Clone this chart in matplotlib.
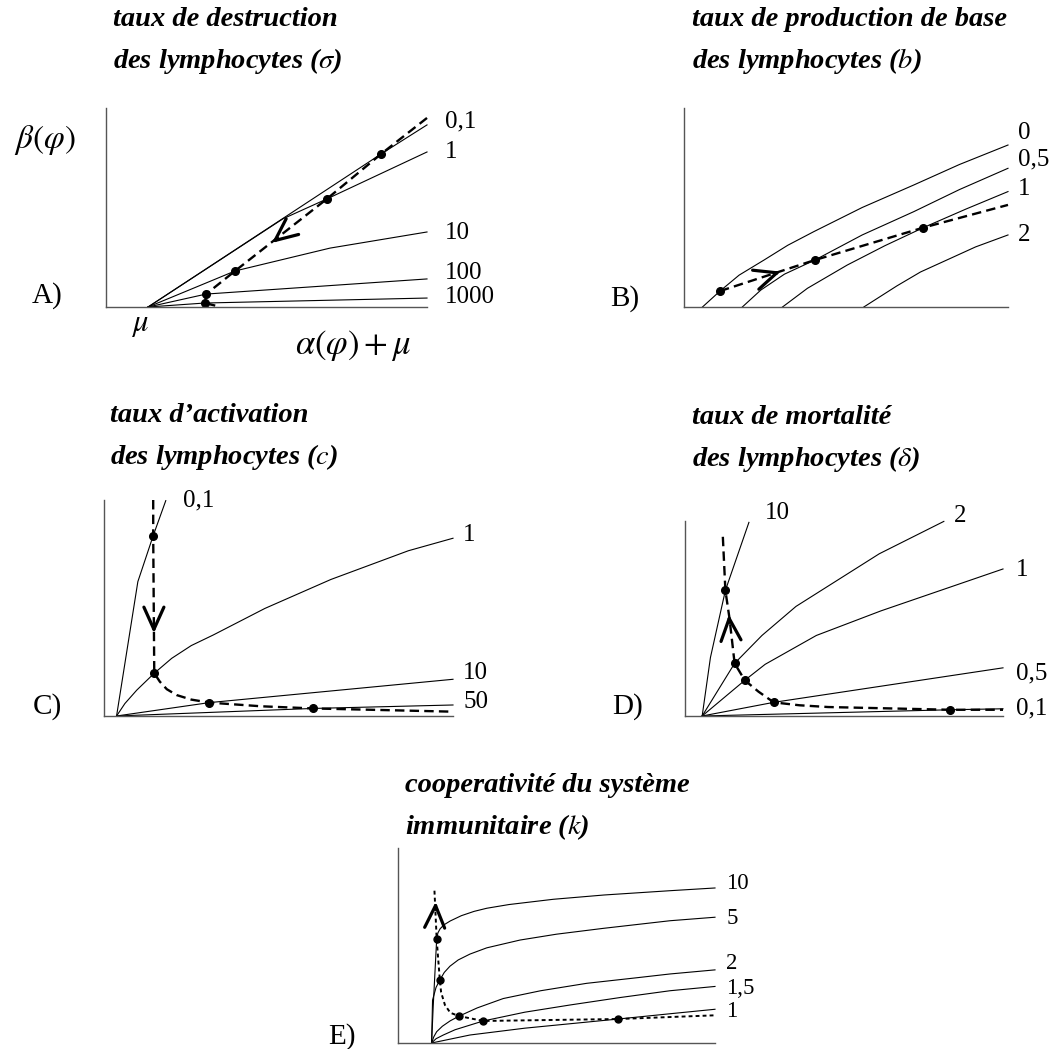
import matplotlib
matplotlib.use("Agg")
import matplotlib.pyplot as plt

plt.rcParams["font.family"] = "Liberation Serif"
plt.rcParams["mathtext.fontset"] = "stix"

W, H = 1054, 1049

# --- data (each panel in % of its own axes) ---
# A) taux de destruction (sigma)
a_names = ["0,1", "1", "10", "100", "1000"]
a_x = [[13.1, 85.7, 100], [13.1, 55.1, 68.8, 100], [13.1, 40.2, 69.8, 100],
       [13.1, 31.2, 100], [13.1, 30.8, 100]]
a_y = [[0, 76.9, 91.5], [0, 44.3, 54.3, 77.9], [0, 18.1, 29.6, 37.7],
       [0, 6.5, 14.1], [0, 2.0, 4.5]]
a_lab_y = [93.0, 77.9, 37.2, 17.1, 5.0]
a_path_x = [100, 85.7, 68.8, 40.2, 31.2, 30.8, 34.5]
a_path_y = [95.0, 76.9, 54.3, 18.1, 6.5, 2.0, 0.5]
a_dot_x = [85.7, 68.8, 40.2, 31.2, 30.8]
a_dot_y = [76.9, 54.3, 18.1, 6.5, 2.0]

# B) taux de production de base (b)
b_names = ["0", "0,5", "1", "2"]
b_x = [[5.7, 11.1, 17.0, 24.7, 32.0, 40.1, 55.0, 70.9, 85.0, 100],
       [18.0, 23.7, 31.0, 40.4, 55.0, 70.9, 85.0, 100],
       [30.4, 38.1, 50.4, 62.0, 73.9, 87.0, 100],
       [55.5, 65.7, 73.0, 81.1, 90.0, 100]]
b_y = [[0, 8.0, 16.0, 23.6, 31.0, 37.9, 50.0, 61.3, 71.6, 81.4],
       [0, 8.5, 16.5, 23.6, 36.2, 47.9, 59.0, 69.7],
       [0, 9.4, 21.1, 30.8, 39.9, 49.2, 58.0],
       [0, 10.6, 17.6, 23.6, 30.2, 36.2]]
b_lab_y = [87.4, 73.9, 59.3, 36.2]
b_path_x = [11.1, 40.4, 73.9, 100]
b_path_y = [8.0, 23.6, 39.9, 51.3]

# C) taux d'activation (c)
c_names = ["0,1", "1", "10", "50"]
c_x = [[3.6, 9.7, 14.1, 17.7],
       [3.6, 6.0, 9.4, 14.4, 19.4, 25.0, 31.3, 46.1, 65.0, 87.2, 100],
       [3.6, 30.2, 100], [3.6, 60.0, 100]]
c_y = [[0, 62.2, 83.5, 99.7],
       [0, 5.8, 12.0, 19.8, 26.7, 32.6, 37.5, 49.8, 63.2, 76.5, 82.3],
       [0, 6.2, 17.0], [0, 3.5, 5.1]]
c_lab_x = [22.7, 102.9, 102.9, 102.9]
c_lab_y = [99.7, 83.8, 19.9, 6.5]
c_path_x = [14.1, 14.1, 14.4, 16.0, 18.0, 20.8, 25.0, 30.2, 45.0, 60.0, 100]
c_path_y = [100, 83.5, 19.8, 15.9, 12.4, 9.7, 7.6, 6.2, 4.5, 3.5, 2.0]
c_dot_x = [14.1, 14.4, 30.2, 60.0]
c_dot_y = [83.5, 19.8, 6.2, 3.5]

# D) taux de mortalite (delta)
d_names = ["10", "2", "1", "0,5", "0,1"]
d_x = [[5.4, 8.0, 12.7, 20.1], [5.4, 15.6, 24.2, 34.9, 61.1, 81.4],
       [5.4, 18.8, 25.2, 41.3, 61.6, 100], [5.4, 27.9, 100], [5.4, 83.4, 100]]
d_y = [[0, 30, 64.4, 99.3], [0, 27.0, 41.3, 56.2, 83.2, 99.8],
       [0, 18.3, 26.5, 41.3, 53.9, 75.4], [0, 7.0, 24.7], [0, 3.2, 3.7]]
d_lab_x = [25.2, 84.7, 104, 104, 104]
d_lab_y = [104.2, 102.8, 74.9, 21.7, 4.0]
d_path_x = [11.9, 12.7, 14.0, 15.6, 18.8, 23.1, 27.9, 36.0, 45.0, 83.4, 100]
d_path_y = [91.9, 64.4, 50.0, 27.0, 18.3, 12.5, 7.0, 5.5, 4.6, 3.2, 3.2]
d_dot_x = [12.7, 15.6, 18.8, 27.9, 83.4]
d_dot_y = [64.4, 27.0, 18.3, 7.0, 3.2]

# E) cooperativite (k)
e_names = ["10", "5", "2", "1,5", "1"]
e_x = [[10.6, 11.1, 12.2, 12.6, 13.3, 14.5, 16.5, 20.0, 24.0, 28.0, 35.0, 49.0, 65.0, 85.8, 100],
       [10.6, 10.9, 12.0, 13.2, 14.6, 16.4, 19.0, 22.7, 28.0, 38.5, 50.0, 64.8, 85.8, 100],
       [10.6, 11.3, 12.2, 14.0, 16.5, 19.3, 25.0, 33.2, 45.0, 59.5, 75.0, 85.8, 100],
       [10.6, 12.0, 14.3, 18.0, 26.9, 40.0, 54.3, 70.0, 85.8, 100],
       [10.6, 22.7, 40.0, 69.5, 85.8, 100]]
e_y = [[0, 18.6, 53.3, 56.5, 58.6, 60.6, 62.6, 65.3, 67.5, 69.1, 71.0, 73.7, 75.9, 78.1, 79.5],
       [0, 22.0, 28.5, 32.3, 36.2, 39.4, 42.6, 45.6, 48.8, 52.8, 55.8, 58.8, 62.7, 64.5],
       [0, 3.2, 5.8, 8.6, 11.4, 13.8, 18.0, 22.8, 26.8, 30.6, 33.4, 35.4, 37.5],
       [0, 2.2, 4.1, 6.8, 11.3, 15.8, 19.5, 23.3, 26.8, 29.0],
       [0, 4.1, 7.6, 12.3, 15.0, 17.3]]
e_lab_y = [82.0, 64.1, 41.0, 28.0, 16.0]
e_path_x = [11.5, 12.2, 12.7, 13.2, 13.6, 14.8, 16.5, 19.3, 26.9, 69.5, 100]
e_path_y = [78.1, 53.3, 42.6, 32.3, 26.0, 19.5, 15.5, 13.8, 11.3, 12.3, 14.2]
e_dot_x = [12.2, 13.2, 19.3, 26.9, 69.5]
e_dot_y = [53.3, 32.3, 13.8, 11.3, 12.3]

fig = plt.figure(figsize=(W / 100, H / 100), dpi=100)


def make_ax(l, t, r, b):
    ax = fig.add_axes([l / W, 1 - b / H, (r - l) / W, (b - t) / H])
    ax.set_xlim(0, 100)
    ax.set_ylim(0, 100)
    for s in ("top", "right"):
        ax.spines[s].set_visible(False)
    for s in ("left", "bottom"):
        ax.spines[s].set_color("#555555")
        ax.spines[s].set_linewidth(1.0)
    ax.set_xticks([])
    ax.set_yticks([])
    ax.patch.set_alpha(0)
    return ax


def draw(ax, xs, ys, names, lab_x, lab_y, px, py, dx, dy, ls=(0, (4, 2.2)), lw=1.7, ms=5.5, fs=18):
    for x, y in zip(xs, ys):
        ax.plot(x, y, color="black", lw=0.8, clip_on=False)
    for n, x, y in zip(names, lab_x, lab_y):
        ax.text(x, y, n, fontsize=fs, ha="left", va="center", clip_on=False)
    ax.plot(px, py, color="black", lw=lw, linestyle=ls, clip_on=False)
    ax.plot(dx, dy, "o", color="black", ms=ms, clip_on=False)


def chevron(ax, tip, tail):
    ax.annotate("", xy=tip, xytext=tail,
                arrowprops=dict(arrowstyle="->,head_length=0.8,head_width=0.36",
                                mutation_scale=20, lw=2.3, color="black",
                                shrinkA=0, shrinkB=0))


def title(x, y, l1, l2):
    fig.text(x / W, 1 - y / H, l1, fontsize=20.5, fontweight="bold", fontstyle="italic",
             ha="left", va="center")
    fig.text(x / W, 1 - (y + 42) / H, l2, fontsize=20.5, fontweight="bold", fontstyle="italic",
             ha="left", va="center")


# A
ax = make_ax(106, 108, 427, 307)
draw(ax, a_x, a_y, a_names, [105.5] * 5, a_lab_y, a_path_x, a_path_y, a_dot_x, a_dot_y)
chevron(ax, (51.7, 32.2), (53.1, 34.0))
ax.text(-19.0, 83.9, r"$\beta(\varphi)$", fontsize=24, ha="center", va="center")
ax.text(10.6, -9.0, r"$\mu$", fontsize=22, ha="center", va="center")
ax.text(76.9, -19.1, r"$\alpha(\varphi)+\mu$", fontsize=25, ha="center", va="center")
ax.text(-18.4, 6.0, "A)", fontsize=21, ha="center", va="center")
title(113, 19, "taux de destruction", r"des lymphocytes ($\sigma$)")

# B
ax = make_ax(684, 108, 1008, 307)
draw(ax, b_x, b_y, b_names, [103] * 4, b_lab_y, b_path_x, b_path_y, b_path_x[:3], b_path_y[:3])
chevron(ax, (29.8, 17.8), (28.3, 17.0))
ax.text(-18.2, 4.5, "B)", fontsize=21, ha="center", va="center")
title(692, 19, "taux de production de base", r"des lymphocytes ($b$)")

# C
ax = make_ax(104, 500, 453, 716)
draw(ax, c_x, c_y, c_names, c_lab_x, c_lab_y, c_path_x, c_path_y, c_dot_x, c_dot_y)
chevron(ax, (14.3, 38.3), (14.3, 42.0))
ax.text(-16.3, 4.2, "C)", fontsize=21, ha="center", va="center")
title(110, 415, "taux d’activation", r"des lymphocytes ($c$)")

# D
ax = make_ax(685, 521, 1003, 716)
draw(ax, d_x, d_y, d_names, d_lab_x, d_lab_y, d_path_x, d_path_y, d_dot_x, d_dot_y)
chevron(ax, (13.8, 52.0), (14.0, 48.0))
ax.text(-18.2, 4.7, "D)", fontsize=21, ha="center", va="center")
title(692, 417, "taux de mortalité", r"des lymphocytes ($\delta$)")

# E
ax = make_ax(398, 848, 715, 1043)
draw(ax, e_x, e_y, e_names, [103.5] * 5, e_lab_y, e_path_x, e_path_y, e_dot_x, e_dot_y,
     ls=(0, (2, 1.6)), lw=1.4, ms=5, fs=16.5)
chevron(ax, (11.9, 72.5), (11.8, 68.5))
ax.text(-17.8, 3.2, "E)", fontsize=21, ha="center", va="center")
title(405, 785, "cooperativité du système", r"immunitaire ($k$)")

fig.savefig("out.png", dpi=100)
